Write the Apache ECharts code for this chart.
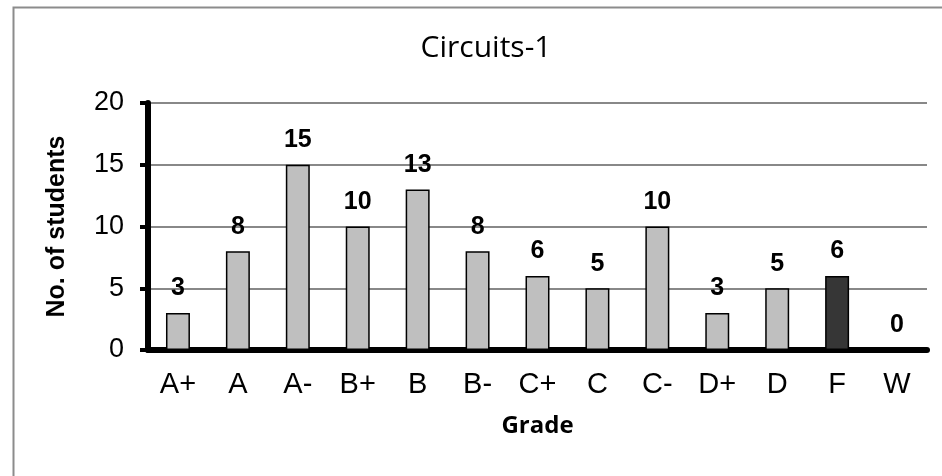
<!DOCTYPE html>
<html>
<head>
<meta charset="utf-8">
<script src="https://cdn.jsdelivr.net/npm/echarts@6/dist/echarts.min.js"></script>
<style>
  html, body { margin: 0; padding: 0; background: #fff; }
  #chart { width: 942px; height: 476px; }
</style>
</head>
<body>
<div id="chart"></div>
<script>
var grades = ['A+', 'A', 'A-', 'B+', 'B', 'B-', 'C+', 'C', 'C-', 'D+', 'D', 'F', 'W'];
var students = [3, 8, 15, 10, 13, 8, 6, 5, 10, 3, 5, 6, 0];
var yTicks = [0, 5, 10, 15, 20];

var myChart = echarts.init(document.getElementById('chart'));

var barData = [];
for (var i = 0; i < grades.length; i++) {
  barData.push({
    value: students[i],
    itemStyle: { color: grades[i] === 'F' ? '#363636' : '#bfbfbf' }
  });
}

var option = {
  animation: false,
  backgroundColor: '#fff',
  graphic: [{
    type: 'rect',
    left: 11, top: 5,
    shape: { width: 1000, height: 600 },
    style: { fill: 'none', stroke: '#8c8c8c', lineWidth: 2 },
    z: 100
  }],
  title: {
    text: 'Circuits-1',
    left: 481, top: 28,
    textAlign: 'center',
    textStyle: { fontFamily: 'Open Sans', fontSize: 30, fontWeight: 'normal', color: '#000' }
  },
  grid: { left: 148, right: 15, top: 103, bottom: 126 },
  xAxis: {
    type: 'category',
    data: grades,
    name: 'Grade',
    nameLocation: 'middle',
    nameGap: 64,
    nameTextStyle: { fontFamily: 'Open Sans', fontSize: 24, fontWeight: 'bold', color: '#000' },
    axisLine: { lineStyle: { color: '#000', width: 6 } },
    axisTick: { length: 9, lineStyle: { color: '#000', width: 4 } },
    axisLabel: { margin: 20, fontFamily: 'Liberation Sans', fontSize: 29, color: '#000' }
  },
  yAxis: {
    type: 'value',
    min: yTicks[0],
    max: yTicks[yTicks.length - 1],
    interval: 5,
    name: 'No. of students',
    nameLocation: 'middle',
    nameGap: 78,
    nameTextStyle: { fontFamily: 'Liberation Sans', fontSize: 25, fontWeight: 'bold', color: '#000' },
    axisLine: { show: true, lineStyle: { color: '#000', width: 6 } },
    axisTick: { show: true, length: 8, lineStyle: { color: '#000', width: 4 } },
    axisLabel: { margin: 24, fontFamily: 'Liberation Sans', fontSize: 27, color: '#000' },
    splitLine: { lineStyle: { color: '#888', width: 2 } }
  },
  series: [{
    type: 'bar',
    data: barData,
    barWidth: '40%',
    itemStyle: { borderColor: '#000', borderWidth: 1.5 },
    label: {
      show: true,
      position: 'top',
      distance: 12,
      fontFamily: 'Liberation Sans',
      fontSize: 25,
      fontWeight: 'bold',
      color: '#000'
    }
  }]
};

if (option && typeof option === 'object') {
  myChart.setOption(option, true);
}
</script>
</body>
</html>
